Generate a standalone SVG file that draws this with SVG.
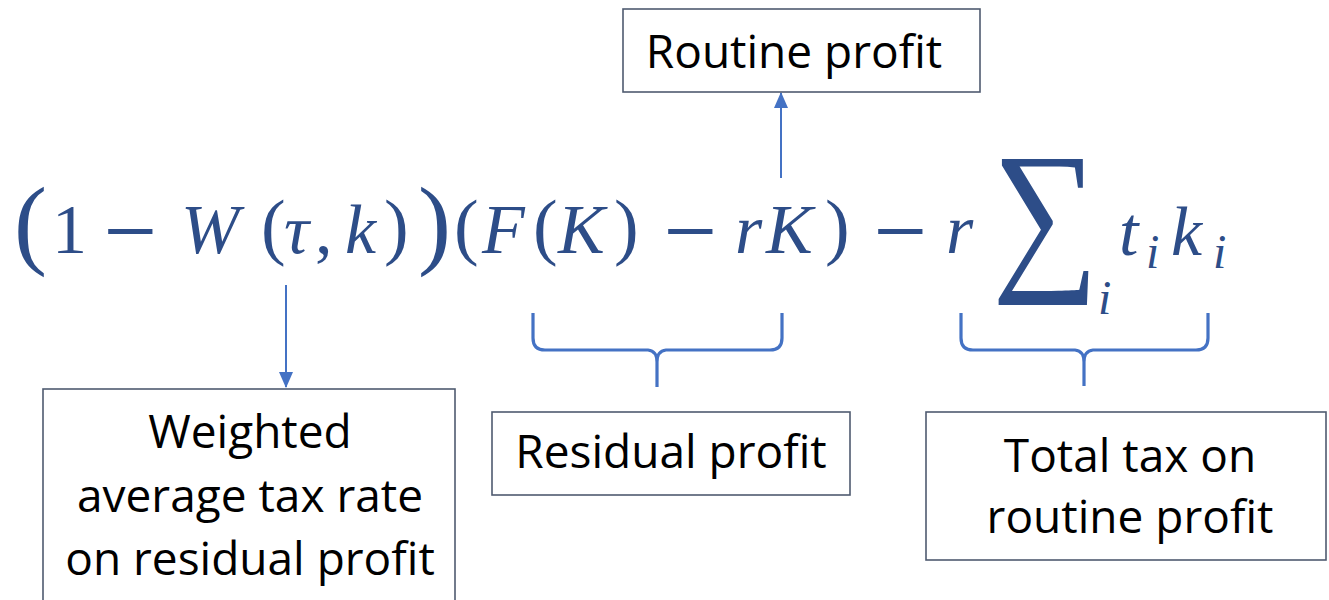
<svg xmlns="http://www.w3.org/2000/svg" width="1329" height="600" viewBox="0 0 1329 600">
<style>
.box{fill:#fff;stroke:#4f5b70;stroke-width:1.6}
.lbl{font-family:"Open Sans","Liberation Sans",sans-serif;font-size:46px;fill:#000;text-anchor:middle}
.m{font-family:"Liberation Serif","DejaVu Serif",serif;font-size:70px;fill:#2d4d88}
.i{font-style:italic}
.s{font-size:48px}
.p{font-size:74px}
.bp{font-size:99px}
.sig{font-size:150px}
.mn{font-family:"Liberation Sans",sans-serif;font-size:70px}
.con{fill:none;stroke:#4472c4;stroke-width:2}
.brace{fill:none;stroke:#4472c4;stroke-width:3.2;stroke-linejoin:round}
</style>
<defs>
<marker id="ah" markerWidth="16" markerHeight="14" refX="15" refY="7" orient="auto" markerUnits="userSpaceOnUse" viewBox="0 0 16 14">
<path d="M0,0 L16,7 L0,14 z" fill="#4472c4"/>
</marker>
</defs>
<rect width="1329" height="600" fill="#fff"/>
<g id="formula">
<text class="m bp" x="14" y="256">(</text>
<text class="m" x="52" y="253">1</text>
<text class="m mn" transform="translate(104,255) scale(1.3,1)" x="0" y="0">−</text>
<text class="m i" x="181" y="253">W</text>
<text class="m p" x="261" y="251">(</text>
<text class="m i" x="284" y="253">τ</text>
<text class="m" x="315" y="253">,</text>
<text class="m i" x="345" y="253">k</text>
<text class="m p" x="384" y="251">)</text>
<text class="m bp" x="418" y="256">)</text>
<text class="m p" x="454" y="251">(</text>
<text class="m i" x="482" y="253">F</text>
<text class="m p" x="533" y="251">(</text>
<text class="m i" x="558" y="253">K</text>
<text class="m p" x="614" y="251">)</text>
<text class="m mn" transform="translate(664,255) scale(1.3,1)" x="0" y="0">−</text>
<text class="m i" x="735" y="253">r</text>
<text class="m i" x="766" y="253">K</text>
<text class="m p" x="825" y="251">)</text>
<text class="m mn" transform="translate(874,255) scale(1.3,1)" x="0" y="0">−</text>
<text class="m i" x="946" y="253">r</text>
<text class="m sig" transform="translate(992,269) scale(1,1.12)" x="0" y="0">∑</text>
<text class="m i s" x="1098" y="314">i</text>
<text class="m i" x="1119" y="255">t</text>
<text class="m i s" x="1146" y="268">i</text>
<text class="m i" x="1171" y="255">k</text>
<text class="m i s" x="1213" y="268">i</text>
</g>
<g id="connectors">
<line class="con" x1="286" y1="285" x2="286" y2="387" marker-end="url(#ah)"/>
<line class="con" x1="781" y1="178" x2="781" y2="93" marker-end="url(#ah)"/>
<path class="brace" d="M533,313 L533,338 Q533,350 545,350 L648,350 Q657,351 657,362 L657,387 M657,362 Q657,351 666,350 L770,350 Q782,350 782,338 L782,313"/>
<path class="brace" d="M961,313 L961,338 Q961,350 973,350 L1075,350 Q1084,351 1084,362 L1084,386 M1084,362 Q1084,351 1093,350 L1196,350 Q1208,350 1208,338 L1208,313"/>
</g>
<g id="node-routine">
<rect class="box" x="623" y="9" width="357" height="83"/>
<text class="lbl" x="794" y="68">Routine profit</text>
</g>
<g id="node-weighted">
<rect class="box" x="43" y="389" width="412" height="230"/>
<text class="lbl" x="250" y="448">Weighted</text>
<text class="lbl" x="250" y="512">average tax rate</text>
<text class="lbl" x="250" y="575">on residual profit</text>
</g>
<g id="node-residual">
<rect class="box" x="492" y="412" width="358" height="83"/>
<text class="lbl" x="671" y="468">Residual profit</text>
</g>
<g id="node-total">
<rect class="box" x="926" y="412" width="400" height="148"/>
<text class="lbl" x="1130" y="472">Total tax on</text>
<text class="lbl" x="1130" y="533">routine profit</text>
</g>
</svg>
